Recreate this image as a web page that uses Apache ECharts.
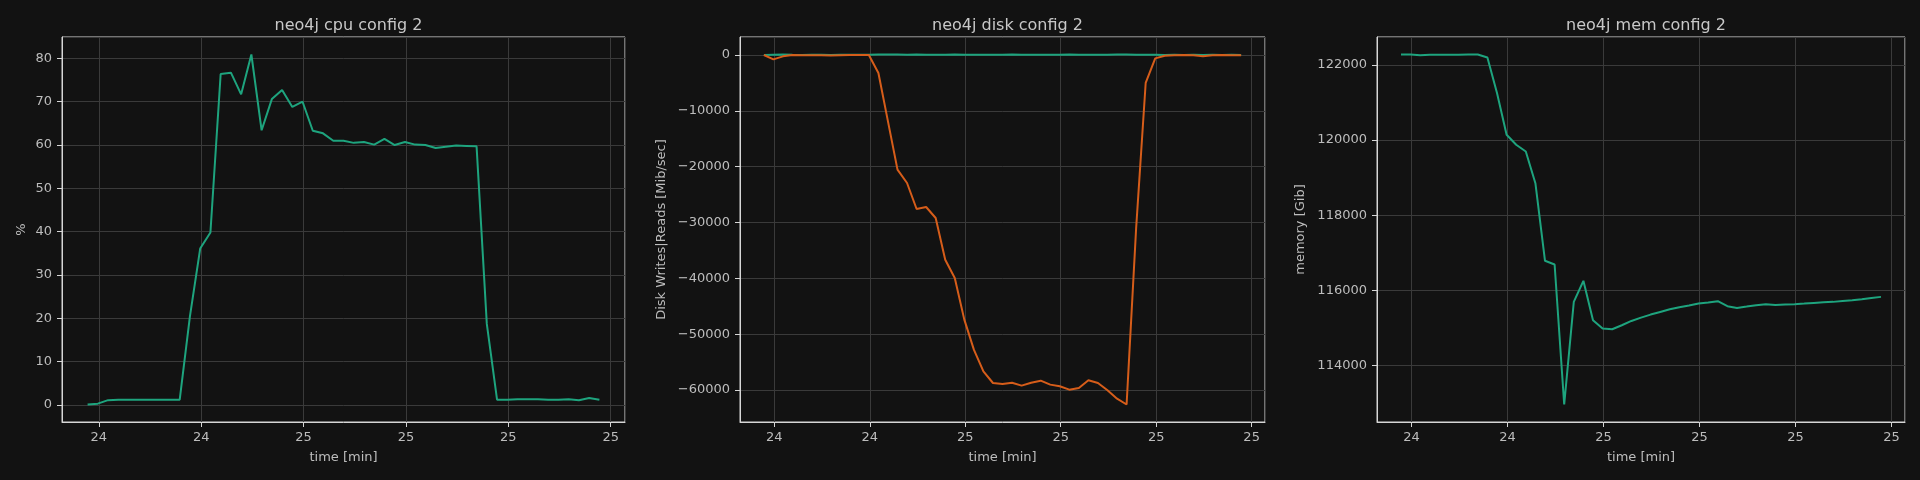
<!DOCTYPE html>
<html>
<head>
<meta charset="utf-8">
<script src="https://cdn.jsdelivr.net/npm/echarts@6/dist/echarts.min.js"></script>
<style>
html,body{margin:0;padding:0;background:#121212;}
#c{width:1920px;height:480px;}
</style>
</head>
<body>
<div id="c"></div>
<script>
// ---- data ----
const time = [24.178,24.198,24.218,24.238,24.258,24.278,24.298,24.318,24.338,24.358,
  24.378,24.398,24.418,24.438,24.458,24.478,24.498,24.518,24.538,24.558,
  24.578,24.598,24.618,24.638,24.658,24.678,24.698,24.718,24.738,24.758,
  24.778,24.798,24.818,24.838,24.858,24.878,24.898,24.918,24.938,24.958,
  24.978,24.998,25.018,25.038,25.058,25.078,25.098,25.118,25.138,25.158,25.178];

const cpu = [0.1,0.3,1.1,1.2,1.2,1.2,1.2,1.2,1.2,1.2,
  20.5,36.1,39.8,76.4,76.7,71.7,80.9,63.4,70.6,72.7,
  68.8,70.0,63.3,62.7,61.0,61.0,60.5,60.7,60.1,61.4,
  60.0,60.7,60.1,60.0,59.3,59.6,59.9,59.8,59.7,18.7,
  1.2,1.2,1.3,1.3,1.3,1.2,1.2,1.3,1.1,1.6,1.2];

const diskWrites = [10,60,80,40,20,30,40,20,30,40,
  30,50,70,90,80,60,70,50,40,60,
  70,50,60,40,50,60,70,60,50,40,
  60,50,70,60,50,40,60,70,80,60,
  40,30,20,30,20,30,20,30,20,30,20];

const diskReads = [0,-780,-240,-20,-50,-60,-60,-100,-60,-20,
  -10,-10,-3220,-11880,-20540,-22930,-27580,-27220,-29190,-36660,
  -39940,-47400,-52780,-56660,-58750,-58930,-58690,-59220,-58690,-58330,
  -59040,-59340,-59940,-59640,-58270,-58750,-60060,-61550,-62600,-31000,
  -5010,-600,-120,-30,-20,-60,-240,-60,-20,-60,-60];

const mem = [122276,122276,122258,122267,122267,122267,122267,122276,122276,122196,
  121253,120142,119876,119698,118853,116791,116693,112969,115698,116258,
  115209,114987,114969,115076,115191,115280,115360,115431,115502,115556,
  115600,115653,115680,115716,115582,115538,115573,115609,115636,115618,
  115627,115636,115653,115671,115689,115698,115724,115742,115769,115804,115831];

const xTicks = [24.2, 24.4, 24.6, 24.8, 25.0, 25.2];
const xTickLabels = ['24', '24', '25', '25', '25', '25'];
const titles = ['neo4j cpu config 2', 'neo4j disk config 2', 'neo4j mem config 2'];
const yNames = ['%', 'Disk Writes|Reads [Mib/sec]', 'memory [Gib]'];
const xName = 'time [min]';
const yIntervals = [10, 10000, 2000];
const seriesColors = ['#1ea47e', '#d65d1a'];

// ---- chart ----
const FONT = 'DejaVu Sans';
const TEXT = '#bdbdbd';
const SPINE = '#d6d6d6';
const GRIDC = '#3a3a3a';

const grids = [
  {left: 62, width: 563},
  {left: 740, width: 525},
  {left: 1377, width: 528}
];
const nameGaps = [34, 72, 70];

function pad(v) { const r = v.max - v.min; return r * 0.05; }
function xLabel(v) {
  for (let i = 0; i < xTicks.length; i++) {
    if (Math.abs(v - xTicks[i]) < 1e-6) return xTickLabels[i];
  }
  return '';
}
function yFmt(v) { return v < 0 ? '\u2212' + String(-v) : String(v); }

const xAxes = grids.map((g, i) => ({
  type: 'value', gridIndex: i,
  min: v => v.min - pad(v), max: v => v.max + pad(v),
  minInterval: 0.2, maxInterval: 0.2,
  name: xName, nameLocation: 'middle', nameGap: 29,
  nameTextStyle: {color: TEXT, fontSize: 13, fontFamily: FONT},
  axisLine: {show: true, onZero: false, lineStyle: {color: SPINE, width: 1}},
  axisTick: {show: true, length: 5, lineStyle: {color: SPINE}},
  axisLabel: {color: TEXT, fontSize: 13, fontFamily: FONT, margin: 9,
    showMinLabel: false, showMaxLabel: false, formatter: xLabel},
  splitLine: {show: true, lineStyle: {color: GRIDC, width: 1}}
}));

const yAxes = grids.map((g, i) => ({
  type: 'value', gridIndex: i,
  min: v => v.min - pad(v), max: v => v.max + pad(v),
  minInterval: yIntervals[i], maxInterval: yIntervals[i],
  name: yNames[i], nameLocation: 'middle', nameGap: nameGaps[i], nameRotate: 90,
  nameTextStyle: {color: TEXT, fontSize: 13, fontFamily: FONT},
  axisLine: {show: true, onZero: false, lineStyle: {color: SPINE, width: 1}},
  axisTick: {show: true, length: 5, lineStyle: {color: SPINE}},
  axisLabel: {color: TEXT, fontSize: 13, fontFamily: FONT, margin: 10,
    showMinLabel: false, showMaxLabel: false, formatter: yFmt},
  splitLine: {show: true, lineStyle: {color: GRIDC, width: 1}}
}));

function pairs(ys) { return time.map((t, k) => [t, ys[k]]); }
function line(ys, idx, color) {
  return {type: 'line', xAxisIndex: idx, yAxisIndex: idx, data: pairs(ys),
    showSymbol: false, symbol: 'none', lineStyle: {color: color, width: 2}, itemStyle: {color: color}};
}

const option = {
  backgroundColor: '#121212',
  animation: false,
  textStyle: {fontFamily: FONT},
  title: titles.map((t, i) => ({
    text: t, left: grids[i].left + grids[i].width / 2, top: 13, textAlign: 'center',
    textStyle: {color: '#c8c8c8', fontSize: 16, fontWeight: 'normal', fontFamily: FONT}
  })),
  grid: grids.map(g => ({left: g.left, width: g.width, top: 37, height: 385,
    show: true, borderColor: SPINE, borderWidth: 1, containLabel: false, outerBoundsMode: 'none'})),
  xAxis: xAxes,
  yAxis: yAxes,
  series: [
    line(cpu, 0, seriesColors[0]),
    line(diskWrites, 1, seriesColors[0]),
    line(diskReads, 1, seriesColors[1]),
    line(mem, 2, seriesColors[0])
  ]
};

const chart = echarts.init(document.getElementById('c'), null, {renderer: 'canvas'});
chart.setOption(option);
</script>
</body>
</html>
